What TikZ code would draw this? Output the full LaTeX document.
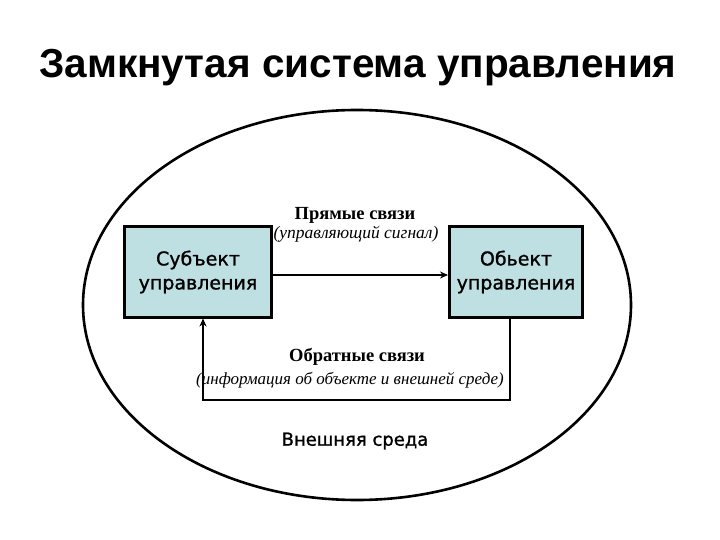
\documentclass[tikz,border=0pt]{standalone}
\usepackage{fontspec}
\setmainfont{Liberation Serif}
\newfontfamily\titlefont{Liberation Sans}
\newfontfamily\boxfont{DejaVu Sans}
\newfontfamily\boxboldfont[FakeBold=1.2]{DejaVu Sans}
\usetikzlibrary{arrows.meta}
\definecolor{boxfill}{HTML}{BFE0E2}
\tikzset{
  unitbox/.style={draw=black, line width=3pt, fill=boxfill, minimum height=90pt, inner sep=0pt,
    font=\boxboldfont\fontsize{19}{24}\selectfont, align=center},
  conn/.style={line width=2.8pt, -{Stealth[length=8pt,width=7pt]}},
  labbold/.style={font=\bfseries\fontsize{18.5}{20}\selectfont},
  labital/.style={font=\itshape\fontsize{17.5}{20}\selectfont},
}
\begin{document}
\begin{tikzpicture}[x=1pt,y=-1pt]
\useasboundingbox (0,0) rectangle (720,540);
\node[font=\titlefont\bfseries\fontsize{40.5}{44}\selectfont] (title) at (358,68) {Замкнутая система управления};
\draw[line width=2.6pt] (357,305) ellipse [x radius=274, y radius=195];
\node[unitbox, minimum width=147pt] (subj) at (198,272) {Субъект\\управления};
\node[unitbox, minimum width=133pt] (obj) at (516,272) {Обьект\\управления};
\draw[conn] (subj.east |- 0,275) -- (obj.west |- 0,275);
\coordinate (fbR) at (510,400);
\coordinate (fbL) at (203,400);
\draw[conn] (obj.south -| fbR) -- (fbR) -- (fbL) -- (subj.south -| fbL);
\node[labbold] (pryam) at (355,215) {Прямые связи};
\node[labital] (upr) at (356,234) {(управляющий сигнал)};
\node[labbold] (obr) at (357,357) {Обратные связи};
\node[font=\itshape\fontsize{17}{20}\selectfont] (inf) at (350,380) {(информация об объекте и внешней среде)};
\node[font=\boxboldfont\fontsize{18}{22}\selectfont] (env) at (355,441) {Внешняя среда};
\end{tikzpicture}
\end{document}
